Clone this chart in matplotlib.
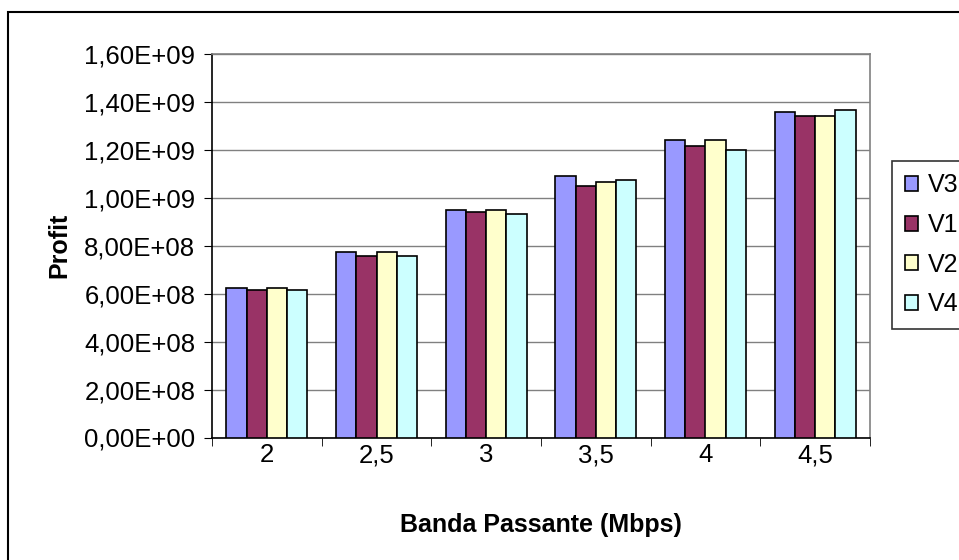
import numpy as np
import matplotlib.pyplot as plt
from matplotlib.patches import Rectangle
from matplotlib.ticker import FuncFormatter

plt.rcParams['font.family'] = ['Liberation Sans', 'DejaVu Sans']

# values
bandas = ['2', '2,5', '3', '3,5', '4', '4,5']
series = ['V3', 'V1', 'V2', 'V4']
v3 = [6.23e8, 7.75e8, 9.49e8, 1.091e9, 1.241e9, 1.359e9]
v1 = [6.16e8, 7.57e8, 9.42e8, 1.050e9, 1.217e9, 1.341e9]
v2 = [6.23e8, 7.75e8, 9.49e8, 1.066e9, 1.241e9, 1.341e9]
v4 = [6.16e8, 7.57e8, 9.32e8, 1.074e9, 1.200e9, 1.366e9]
colors = ['#9999FF', '#993366', '#FFFFCC', '#CCFFFF']

fig = plt.figure(figsize=(9.59, 5.6), dpi=100)
ax = fig.add_axes([212 / 959, 1 - 437.5 / 560, 658 / 959, 383.5 / 560])

x = np.arange(len(bandas))
w = 0.184
for i, (vals, c, lab) in enumerate(zip([v3, v1, v2, v4], colors, series)):
    ax.bar(x + (i - 1.5) * w, vals, width=w, color=c, edgecolor='black',
           linewidth=1.2, label=lab, zorder=3)

ax.set_xlim(-0.5, 5.5)
ax.set_ylim(0, 1.6e9)
ax.set_yticks(np.arange(0, 1.61e9, 2e8))
ax.yaxis.set_major_formatter(FuncFormatter(lambda v, p: ('%.2E' % v).replace('.', ',')))
ax.set_xticks(x)
ax.set_xticklabels(bandas)
ax.set_xticks(np.arange(-0.5, 5.6, 1), minor=True)
ax.tick_params(axis='x', which='major', length=0, pad=4, labelsize=18.5)
ax.tick_params(axis='x', which='minor', length=6, color='black')
ax.tick_params(axis='y', length=6, labelsize=18.5, pad=6)

ax.grid(axis='y', color='#808080', linewidth=1, zorder=0)
for s in ['top', 'right']:
    ax.spines[s].set_color('#808080')
    ax.spines[s].set_linewidth(1.2)
for s in ['left', 'bottom']:
    ax.spines[s].set_color('black')
    ax.spines[s].set_linewidth(1.2)

ax.set_xlabel('Banda Passante (Mbps)', fontsize=18, fontweight='bold', labelpad=33)
ax.set_ylabel('Profit', fontsize=18, fontweight='bold', labelpad=9)

leg = ax.legend(loc='upper left', bbox_to_anchor=(892 / 959, 1 - 161 / 560),
                bbox_transform=fig.transFigure, fontsize=18, frameon=True,
                fancybox=False, edgecolor='black', handlelength=0.55,
                handleheight=0.55, handletextpad=0.4, labelspacing=0.62,
                borderpad=0.5, borderaxespad=0)
leg.get_frame().set_linewidth(1.2)

# outer chart border
fig.patches.append(Rectangle((8 / 959, -0.05), 1.1, 1 - 12 / 560 + 0.05,
                             transform=fig.transFigure, fill=False,
                             edgecolor='black', linewidth=1.5))

fig.savefig('out.png', dpi=100)
